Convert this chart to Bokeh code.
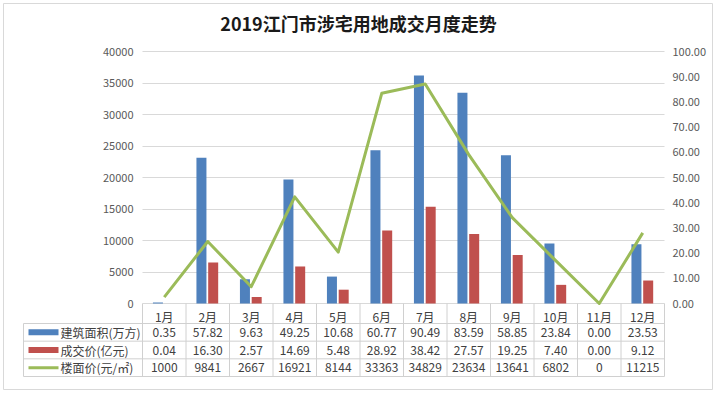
from bokeh.plotting import figure
from bokeh.models import Range1d, LinearAxis, FixedTicker, NumeralTickFormatter, Grid, ColumnDataSource
from bokeh.transform import dodge
from bokeh.embed import file_html
from bokeh.resources import INLINE
from bokeh.core.properties import value

title = "2019江门市涉宅用地成交月度走势"
months = ["1月", "2月", "3月", "4月", "5月", "6月", "7月", "8月", "9月", "10月", "11月", "12月"]
area = [0.35, 57.82, 9.63, 49.25, 10.68, 60.77, 90.49, 83.59, 58.85, 23.84, 0.00, 23.53]
deal = [0.04, 16.30, 2.57, 14.69, 5.48, 28.92, 38.42, 27.57, 19.25, 7.40, 0.00, 9.12]
price = [1000, 9841, 2667, 16921, 8144, 33363, 34829, 23634, 13641, 6802, 0, 11215]
series = ["建筑面积(万方)", "成交价(亿元)", "楼面价(元/㎡)"]
left_ticks = [0, 5000, 10000, 15000, 20000, 25000, 30000, 35000, 40000]
right_ticks = [0, 10, 20, 30, 40, 50, 60, 70, 80, 90, 100]

BLUE, RED, GREEN = "#4F81BD", "#C0504D", "#9BBB59"
GRID = "#D9D9D9"
TBL = "#D0D0D0"
TXT = "#404040"
FONT = "Noto Sans CJK SC"

n = len(months)
xc = [i + 0.5 for i in range(n)]
src = ColumnDataSource(dict(x=xc, month=months, area=area, deal=deal, price=price))

# layout geometry (page pixels) -> ranges; the frame covers the whole canvas
OFF = 3                      # canvas offset on the page (via margin)
W, H = 710, 387
PX0, PX1 = 142, 664          # plot area left/right on page
PY0, PY1 = 303, 51           # zero line / top line on page
ux = (PX1 - PX0) / n         # px per month
uy = (PY0 - PY1) / 40000     # px per left unit
x_range = Range1d((OFF - PX0) / ux, (OFF + W - PX0) / ux)
y_range = Range1d(-(OFF + H - PY0) / uy, (PY0 - OFF) / uy)
ur = (PY0 - PY1) / 100
right_range = Range1d(-(OFF + H - PY0) / ur, (PY0 - OFF) / ur)
TB0, TB3 = 376, 323          # table bottom / top of first data row
ut = (TB0 - TB3) / 3
tbl_range = Range1d(-(OFF + H - TB0) / ut, (TB0 - OFF) / ut)

p = figure(width=W, height=H, x_range=x_range, y_range=y_range,
           x_axis_type=None, y_axis_type=None,
           output_backend="svg", toolbar_location=None,
           min_border_left=0, min_border_right=0, min_border_top=0, min_border_bottom=0)
p.margin = (OFF, OFF, OFF, OFF)
p.extra_y_ranges = {"right": right_range, "tbl": tbl_range}
p.outline_line_color = "#D9D9D9"
p.background_fill_color = "white"
p.border_fill_color = "white"

# gridlines
g = Grid(dimension=1, ticker=FixedTicker(ticks=left_ticks), grid_line_color=GRID)
try:
    g.cross_bounds = (0, n)
    p.add_layout(g)
except Exception:
    p.segment(x0=[0] * len(left_ticks), x1=[n] * len(left_ticks), y0=left_ticks, y1=left_ticks,
              line_color=GRID)

p.vbar(x=dodge("x", -0.145, range=p.x_range), top="area", width=0.23, source=src,
       y_range_name="right", fill_color=BLUE, line_color=None)
p.vbar(x=dodge("x", 0.125, range=p.x_range), top="deal", width=0.23, source=src,
       y_range_name="right", fill_color=RED, line_color=None)
p.line(x="x", y="price", source=src, line_color=GREEN, line_width=3, line_join="round")

# axes placed at fixed locations inside the frame (no standoff, so they need no border space)
la = LinearAxis(fixed_location=-9 / ux, ticker=FixedTicker(ticks=left_ticks),
                formatter=NumeralTickFormatter(format="0"))
p.add_layout(la, "left")
ra = LinearAxis(fixed_location=n + 8 / ux, y_range_name="right", ticker=FixedTicker(ticks=right_ticks),
                formatter=NumeralTickFormatter(format="0.00"))
p.add_layout(ra, "right")
for ax in (la, ra):
    ax.major_label_text_font_size = "11px"
    ax.major_label_text_color = "#595959"

xa = LinearAxis(fixed_location=-4 / uy, ticker=FixedTicker(ticks=xc))
xa.major_label_overrides = {x: m for x, m in zip(xc, months)}
xa.major_label_text_font_size = "12px"
xa.major_label_text_color = TXT
p.add_layout(xa, "below")

for ax in (la, ra, xa):
    ax.axis_line_color = None
    ax.major_tick_line_color = None
    ax.minor_tick_line_color = None
    ax.major_tick_out = 0
    ax.major_tick_in = 0
    ax.minor_tick_out = 0
    ax.minor_tick_in = 0
    ax.major_label_standoff = 0
    ax.major_label_text_font = FONT

# title
p.text(x=[(358 - PX0) / ux], y=[(PY0 - 22) / uy], text=[title], text_align="center",
       text_baseline="middle", text_font=value(FONT), text_font_size="18px",
       text_font_style="bold", text_color="#1a1a1a")

# ---------------- data table ----------------
lx = (23 - PX0) / ux
top_hdr = 3 + (TB3 - PY0) / ut
vx = list(range(n + 1))
p.segment(x0=[lx] + vx, x1=[lx] + vx, y0=[0] * (n + 2), y1=[3] + [top_hdr] * (n + 1),
          y_range_name="tbl", line_color=TBL, line_width=1)
hy = [0, 1, 2, 3]
p.segment(x0=[lx] * 4, x1=[n] * 4, y0=hy, y1=hy, y_range_name="tbl",
          line_color=TBL, line_width=1)

rows = [[f"{v:.2f}" for v in area], [f"{v:.2f}" for v in deal], [f"{v}" for v in price]]
tx, ty, tt = [], [], []
for r, vals in enumerate(rows):
    for i, s in enumerate(vals):
        tx.append(xc[i]); ty.append(2.5 - r); tt.append(s)
p.text(x=tx, y=ty, text=tt, y_range_name="tbl", text_align="center", text_baseline="middle",
       text_font=value(FONT), text_font_size="12px", text_color=TXT)

# legend column
sw0, sw1 = (28 - PX0) / ux, (58 - PX0) / ux
hh = 3 / ut
p.quad(left=[sw0, sw0], right=[sw1, sw1], top=[2.5 + hh, 1.5 + hh], bottom=[2.5 - hh, 1.5 - hh],
       y_range_name="tbl", fill_color=[BLUE, RED], line_color=None)
p.segment(x0=[sw0], x1=[sw1], y0=[0.5], y1=[0.5], y_range_name="tbl",
          line_color=GREEN, line_width=3)
p.text(x=[(60 - PX0) / ux] * 3, y=[2.5, 1.5, 0.5], text=series, y_range_name="tbl",
       text_align="left", text_baseline="middle", text_font=value(FONT),
       text_font_size="12px", text_color=TXT)

open("out.html", "w").write(file_html(p, INLINE))
